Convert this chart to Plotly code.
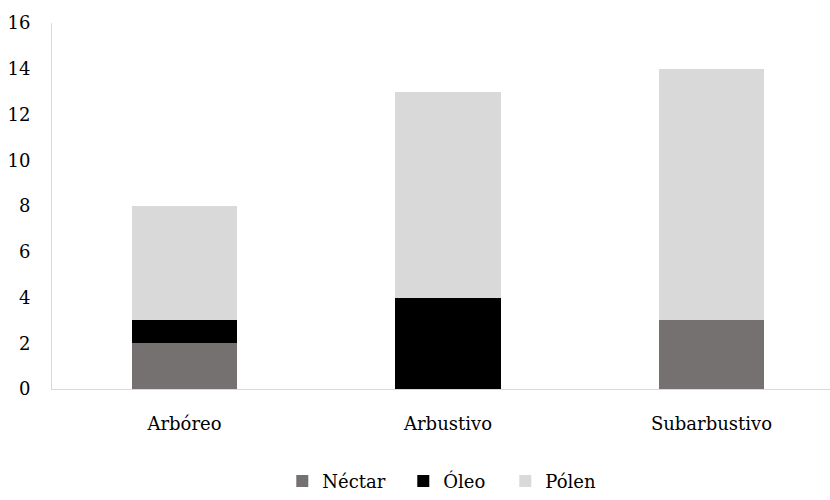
import plotly.graph_objects as go

categories = ["Arbóreo", "Arbustivo", "Subarbustivo"]
nectar = [2, 0, 3]
oleo = [1, 4, 0]
polen = [5, 9, 11]
y_ticks = [0, 2, 4, 6, 8, 10, 12, 14, 16]

FONT = "DejaVu Serif"

fig = go.Figure()
fig.add_trace(go.Bar(x=categories, y=nectar, name="Néctar",
                     marker=dict(color="#767171", line=dict(width=0)), legendwidth=76))
fig.add_trace(go.Bar(x=categories, y=oleo, name="Óleo",
                     marker=dict(color="#000000", line=dict(width=0)), legendwidth=57))
fig.add_trace(go.Bar(x=categories, y=polen, name="Pólen",
                     marker=dict(color="#d9d9d9", line=dict(width=0)), legendwidth=60))

fig.update_layout(
    width=830, height=500,
    barmode="stack", bargap=0.6,
    plot_bgcolor="white", paper_bgcolor="white",
    margin=dict(l=52, r=0, t=23, b=104),
    font=dict(family=FONT, size=18, color="#000000"),
    showlegend=True,
    legend=dict(orientation="h", x=0.296, xanchor="left", y=-0.252, yanchor="middle",
                font=dict(family=FONT, size=18, color="#000000"), traceorder="normal"),
    xaxis=dict(range=[-0.503, 2.45], showline=True, linecolor="#d9d9d9", linewidth=1,
               showgrid=False, zeroline=False, ticks="", ticklabelstandoff=18),
    yaxis=dict(range=[0, 16], tickvals=y_ticks, showline=True, linecolor="#d9d9d9",
               linewidth=1, showgrid=False, zeroline=False, ticks="", ticklabelstandoff=17),
)

fig.write_html("out.html")
